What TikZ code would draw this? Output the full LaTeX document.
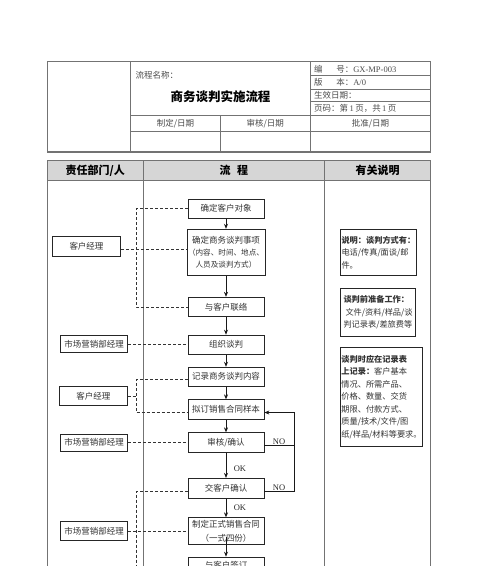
\documentclass[tikz,border=0pt]{standalone}
\usepackage{fontspec}
\setmainfont{Liberation Serif}
\newfontfamily\cjk{Noto Sans CJK SC}
\newfontfamily\lat{Liberation Serif}
\usetikzlibrary{arrows.meta}
\tikzset{
  flow/.style={draw=black!85, line width=0.8pt, minimum width=76pt, inner sep=1pt,
    font=\cjk\fontsize{8.5}{13}\selectfont, align=center, text=black!80},
  side/.style={draw=black!85, line width=0.8pt, inner sep=1pt,
    font=\cjk\fontsize{8.5}{12}\selectfont, text=black!80},
  note/.style={draw=black!85, line width=0.8pt, inner sep=1pt, minimum width=76pt,
    font=\cjk\fontsize{8.2}{12.5}\selectfont, align=left, text=black!80, anchor=north west},
  dlink/.style={dash pattern=on 3pt off 2pt, line width=0.6pt, draw=black!80},
  arr/.style={-{Stealth[length=5pt,width=4pt]}, line width=0.7pt, draw=black!90},
  plain/.style={line width=0.7pt, draw=black!90},
  tbl/.style={draw=black!55, line width=0.8pt},
  tblo/.style={draw=black!55, line width=1.4pt},
  ttext/.style={font=\cjk\fontsize{8.5}{10}\selectfont, text=black!70, inner sep=0pt},
  htext/.style={font=\cjk\bfseries\fontsize{11}{12}\selectfont, text=black, inner sep=0pt},
  lbl/.style={font=\lat\fontsize{8.5}{10}\selectfont, text=black!85, inner sep=0pt},
}
\begin{document}
\begin{tikzpicture}[x=1pt,y=-1pt]
\useasboundingbox (0,0) rectangle (500,566);
\clip (0,0) rectangle (500,566);
\fill[white] (0,0) rectangle (500,566);

% ---------- header table ----------
\draw[tbl] (130.7,61.7) -- (130.7,152);
\draw[tbl] (310.3,61.7) -- (310.3,152);
\draw[tbl] (310.3,75.7) -- (430.7,75.7);
\draw[tbl] (310.3,89) -- (430.7,89);
\draw[tbl] (310.3,101.7) -- (430.7,101.7);
\draw[tbl] (130.7,115) -- (430.7,115);
\draw[tbl] (130.7,131) -- (430.7,131);
\draw[tbl] (220.3,115) -- (220.3,152);
\draw[tblo] (47.3,61.7) rectangle (430.7,152);

\node[ttext, anchor=west] (pname) at (135.5,75.7) {流程名称：};
\node[font=\cjk\bfseries\fontsize{12.5}{14}\selectfont, inner sep=0pt] (title) at (220.5,96.5) {商务谈判实施流程};
\node[ttext, anchor=west] (r1) at (314,69) {编\hspace{1.6em}号：{\lat GX-MP-003}};
\node[ttext, anchor=west] (r2) at (314,82.3) {版\hspace{1.6em}本：{\lat A/0}};
\node[ttext, anchor=west] (r3) at (314,95.3) {生效日期：};
\node[ttext, anchor=west] (r4) at (314,108.6) {页码：第{\lat\,1\,}页，共{\lat\,1\,}页};
\node[ttext] (s1) at (175.5,123.2) {制定/日期};
\node[ttext] (s2) at (265.3,123.2) {审核/日期};
\node[ttext] (s3) at (370.5,123.2) {批准/日期};

% ---------- main table ----------
\fill[black!16] (47.3,160.7) rectangle (430.7,180.7);
\draw[tbl] (47.3,180.7) -- (430.7,180.7);
\draw[tbl] (143.3,160.7) -- (143.3,600);
\draw[tbl] (324.3,160.7) -- (324.3,600);
\draw[tblo] (47.3,160.7) rectangle (430.7,600);
\node[htext] (h1) at (95.3,170.7) {责任部门/人};
\node[htext] (h2) at (233.8,170.7) {流\hspace{0.6em}程};
\node[htext] (h3) at (377.5,170.7) {有关说明};

% ---------- flow boxes ----------
\node[flow, minimum height=19pt] (b1) at (226,208.6) {确定客户对象};
\node[flow, minimum height=46pt] (b2) at (226,252.2) {确定商务谈判事项\\[-1pt]{\fontsize{7.6}{13}\selectfont（内容、时间、地点、}\\[-1pt]{\fontsize{7.6}{13}\selectfont 人员及谈判方式）}};
\node[flow, minimum height=19.5pt] (b3) at (226,307) {与客户联络};
\node[flow, minimum height=19pt] (b4) at (226,344.6) {组织谈判};
\node[flow, minimum height=19pt] (b5) at (226,376.7) {记录商务谈判内容};
\node[flow, minimum height=19.5pt] (b6) at (226,409.5) {拟订销售合同样本};
\node[flow, minimum height=19.5pt] (b7) at (226,442.5) {审核/确认};
\node[flow, minimum height=20pt] (b8) at (226,488.3) {交客户确认};
\node[flow, minimum height=26.5pt] (b9) at (226,531) {制定正式销售合同\\[1pt]（一式四份）};
\node[flow, minimum height=17pt, anchor=north] (b10) at (226,556.7) {与客户签订};

% ---------- side boxes ----------
\node[side, minimum width=68.5pt, minimum height=20pt] (l1) at (86.5,246) {客户经理};
\node[side, minimum width=67pt, minimum height=16.5pt] (l2) at (94.2,343.8) {市场营销部经理};
\node[side, minimum width=68pt, minimum height=18.5pt] (l3) at (93.3,396) {客户经理};
\node[side, minimum width=67pt, minimum height=17pt] (l4) at (94.2,442.5) {市场营销部经理};
\node[side, minimum width=67pt, minimum height=19pt] (l5) at (94.2,531.3) {市场营销部经理};

% ---------- solid arrows ----------
\draw[arr] (b1) -- (b2);
\draw[arr] (b2) -- (b3);
\draw[arr] (b3) -- (b4);
\draw[arr] (b4) -- (b5);
\draw[arr] (b5) -- (b6);
\draw[arr] (b6) -- (b7);
\draw[arr] (b7) -- (b8);
\draw[arr] (b8) -- (b9);
\draw[arr] (b9.center) ++(0,6) -- (b10);
\node[lbl] (ok1) at (240,468.3) {OK};
\node[lbl] (ok2) at (240,507.3) {OK};

% NO loop
\coordinate (rx) at (294.3,0);
\draw[arr] ([yshift=-3pt]b7.east) -- ([yshift=-3pt]b7.east -| rx) |- ([yshift=-3pt]b6.east);
\draw[plain] ([yshift=-3pt]b8.east) -- ([yshift=-3pt]b8.east -| rx) -- ([yshift=-3pt]b7.east -| rx);
\node[lbl] (no1) at (279,441.5) {NO};
\node[lbl] (no2) at (279,487.8) {NO};

% ---------- dashed links ----------
\coordinate (dx) at (136,0);
\draw[dlink] (b1.west) -- (b1.west -| dx) -- (b3.west -| dx) -- (b3.west);
\draw[dlink] ([yshift=-3pt]l1.east) -- ([yshift=-3pt]l1.east -| b2.west);
\draw[dlink] (l2.east) -- (l2.east -| b4.west);
\draw[dlink] ([yshift=-3pt]b5.west) -- ([yshift=-3pt]b5.west -| dx) -- ([yshift=-3pt]b6.west -| dx) -- ([yshift=-3pt]b6.west);
\draw[dlink] (l3.east) -- (l3.east -| dx);
\draw[dlink] (l4.east) -- (l4.east -| b7.west);
\coordinate (dbot) at (136,580);
\draw[dlink] ([yshift=-3pt]b8.west) -- ([yshift=-3pt]b8.west -| dx) -- (dbot);
\draw[dlink] (l5.east) -- (l5.east -| b9.west);

% ---------- notes ----------
\node[note, minimum height=45.7pt] (n1) at (340,229.3) {{\bfseries 说明：谈判方式有：}\\电话/传真/面谈/邮\\件。};
\node[note, minimum width=75.3pt, minimum height=47.4pt] (n2) at (340,288.3) {{\bfseries 谈判前准备工作：}\\\hspace{2pt}文件/资料/样品/谈\\判记录表/差旅费等};
\node[note, minimum width=75.3pt, minimum height=98.4pt] (n3) at (340,347.3) {{\bfseries 谈判时应在记录表}\\{\bfseries 上记录：}客户基本\\情况、所需产品、\\价格、数量、交货\\期限、付款方式、\\质量/技术/文件/图\\纸/样品/材料等要求。};
\end{tikzpicture}
\end{document}
